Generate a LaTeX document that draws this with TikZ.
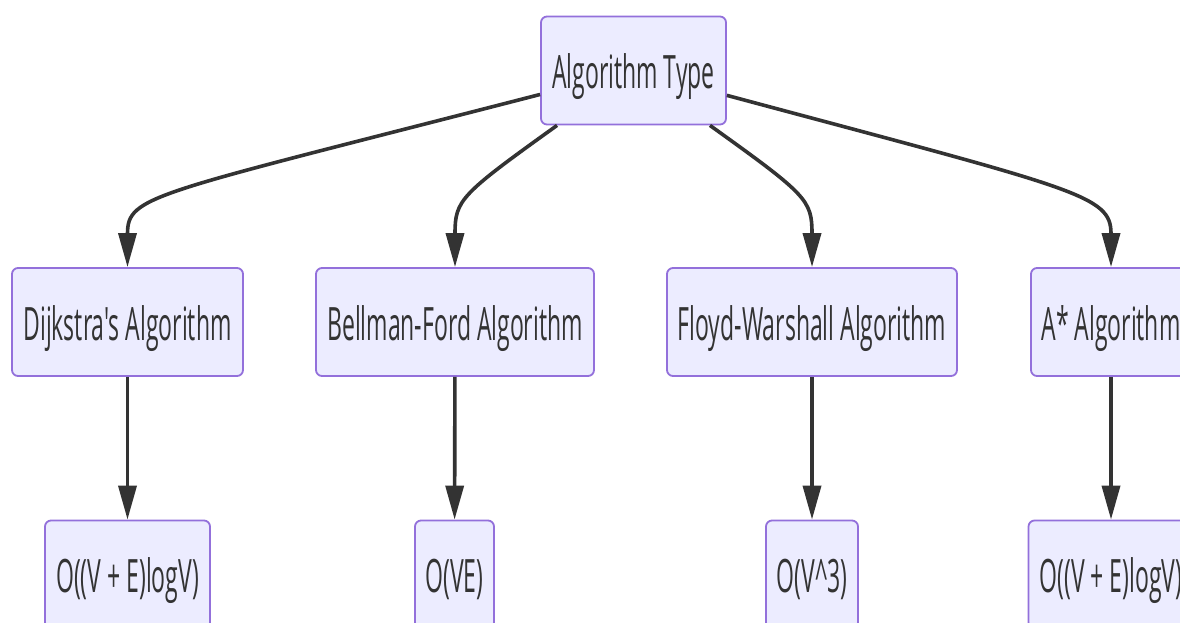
\documentclass[tikz,border=0pt]{standalone}
\usepackage{fontspec}
\newfontfamily\labfont[FakeStretch=0.5]{Open Sans}
\usetikzlibrary{arrows.meta}
\definecolor{nodefill}{HTML}{ECECFF}
\definecolor{nodeline}{HTML}{9370DB}
\definecolor{ink}{HTML}{333333}
\begin{document}
\begin{tikzpicture}[x=1pt,y=-1pt,
  box/.style={draw=nodeline, fill=nodefill, line width=1.8pt, rounded corners=6pt,
    minimum height=108pt, inner sep=0pt, text=ink, text height=36pt, text depth=0pt,
    font=\labfont\fontsize{46}{50}\selectfont},
  edge/.style={draw=ink, line width=3.6pt, -{Triangle[length=34pt,width=18pt]}}]
\clip (0,0) rectangle (1180,622);
\fill[white] (0,0) rectangle (1180,622);
\node[box, minimum width=185pt] (top) at (633.5,70.5) {Algorithm Type};
\node[box, minimum width=231pt] (dij) at (127.5,322) {Dijkstra's Algorithm};
\node[box, minimum width=278pt] (bf) at (455,322) {Bellman-Ford Algorithm};
\node[box, minimum width=290pt] (fw) at (812,322) {Floyd-Warshall Algorithm};
\node[box, minimum width=160pt] (as) at (1111,322) {A* Algorithm};
\node[box, minimum width=165pt] (c1) at (127.5,574.5) {O((V + E)logV)};
\node[box, minimum width=79pt] (c2) at (454.5,574.5) {O(VE)};
\node[box, minimum width=92pt] (c3) at (812,574.5) {O(V\^{}3)};
\node[box, minimum width=165pt] (c4) at (1111,574.5) {O((V + E)logV)};
\draw[edge] (top) .. controls (150,195) and (127.5,195) .. (dij);
\draw[edge] (top) .. controls (460,195) and (455,200) .. (bf);
\draw[edge] (top) .. controls (807,195) and (812,200) .. (fw);
\draw[edge] (top) .. controls (1080,190) and (1111,195) .. (as);
\draw[edge] (dij) -- (c1);
\draw[edge] (bf) -- (c2);
\draw[edge] (fw) -- (c3);
\draw[edge] (as) -- (c4);
\end{tikzpicture}
\end{document}
